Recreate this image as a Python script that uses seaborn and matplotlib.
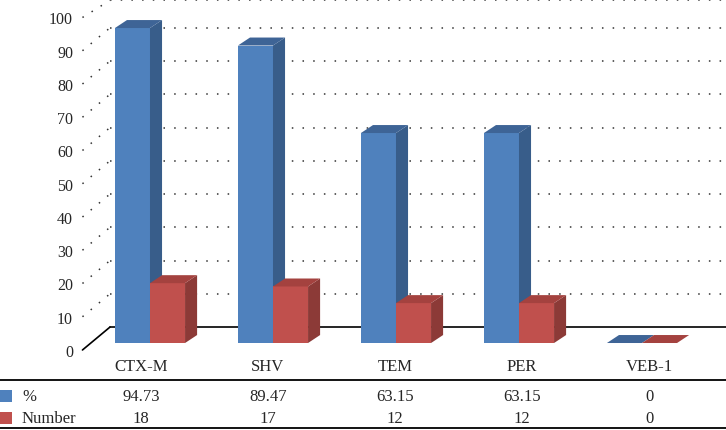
import numpy as np
import pandas as pd
import matplotlib
matplotlib.use("Agg")
import matplotlib.pyplot as plt
from matplotlib.patches import Polygon, Rectangle
import seaborn as sns

# Chart data
genes = ["CTX-M", "SHV", "TEM", "PER", "VEB-1"]
pct = [94.73, 89.47, 63.15, 63.15, 0]
number = [18, 17, 12, 12, 0]
pct_labels = ["94.73", "89.47", "63.15", "63.15", "0"]
num_labels = ["18", "17", "12", "12", "0"]
series = ["%", "Number"]
yticks = list(range(0, 101, 10))

blue = "#4F81BD"
red = "#C0504D"
side_cols = {blue: "#385D8A", red: "#8C3A37"}
top_cols = {blue: "#3E6496", red: "#A4423F"}

df = pd.DataFrame({
    "gene": genes * 2,
    "series": [series[0]] * len(genes) + [series[1]] * len(genes),
    "value": pct + number,
})

sns.set_style("white")
plt.rcParams["font.family"] = ["Liberation Serif", "DejaVu Serif"]
plt.rcParams["font.size"] = 11

W, H = 726, 431
fig = plt.figure(figsize=(W / 100, H / 100), dpi=100)
ax = fig.add_axes([80 / W, 1 - 360 / H, 646 / W, 360 / H])

sns.barplot(data=df, x="gene", y="value", hue="series", palette=[blue, red],
            width=0.57, saturation=1, legend=False, ax=ax, linewidth=0)

# pseudo-3D depth (in data units)
dx, dy = 0.098, 2.4
# back wall offset
wall_x, wall_y = -0.325, 4.8
x_left = -0.569
y_top = 103.46
ax.set_xlim(x_left, 4.683)
ax.set_ylim(-4.81, y_top)

n = len(genes)
for k, p in enumerate(ax.patches):
    col = blue if k < n else red
    z = 2 if k < n else 3
    p.set_zorder(z)
    x0 = p.get_x()
    x1 = x0 + p.get_width()
    h = p.get_height()
    side = Polygon([(x1, 0), (x1, h), (x1 + dx, h + dy), (x1 + dx, dy)],
                   closed=True, facecolor=side_cols[col], edgecolor="none", zorder=z + 0.1)
    top = Polygon([(x0, h), (x1, h), (x1 + dx, h + dy), (x0 + dx, h + dy)],
                  closed=True, facecolor=top_cols[col], edgecolor="none", zorder=z + 0.2)
    ax.add_patch(side)
    ax.add_patch(top)

# back wall grid and floor
xmax = ax.get_xlim()[1]
for v in yticks[1:]:
    yb = min(v + wall_y, y_top - 0.4)  # top line sits at the plot edge
    ax.plot([wall_x, xmax], [yb, yb], color="#333333",
            linestyle=(0, (1, 6)), linewidth=1.1, zorder=1)
    ax.plot([x_left + 0.02, wall_x], [v - 2.1, yb], color="#333333",
            linestyle=(0, (1, 6)), linewidth=1.1, zorder=1)
ax.plot([wall_x, xmax], [wall_y, wall_y], color="black", linewidth=1.2, zorder=1)
ax.plot([x_left + 0.02, wall_x], [-2.1, wall_y], color="black", linewidth=1.2, zorder=1)

ax.set_yticks([v - 2.1 for v in yticks])
ax.set_yticklabels([str(v) for v in yticks])
ax.tick_params(axis="y", length=0, pad=5, labelsize=11.5)
ax.set_xticks([])
ax.set_xlabel("")
ax.set_ylabel("")
sns.despine(ax=ax, left=True, bottom=True)

# data table below
tax = fig.add_axes([0, 0, 1, 1 - 360 / H])
tax.set_xlim(0, W)
tax.set_ylim(431, 360)
tax.axis("off")
col_x = 141 + 127 * np.arange(n)
fs = 12
for i in range(n):
    tax.text(col_x[i], 367, genes[i], ha="center", va="center", fontsize=fs)
    tax.text(col_x[i], 397, pct_labels[i], ha="center", va="center", fontsize=fs)
    tax.text(col_x[i], 419, num_labels[i], ha="center", va="center", fontsize=fs)
tax.plot([0, W], [381, 381], color="black", linewidth=1.3)
tax.plot([0, W], [428.5, 428.5], color="black", linewidth=1.3)
tax.add_patch(Rectangle((0, 391), 12, 12, facecolor=blue, edgecolor="none"))
tax.add_patch(Rectangle((0, 413), 12, 12, facecolor=red, edgecolor="none"))
tax.text(22, 397, series[0], ha="left", va="center", fontsize=fs)
tax.text(22, 419, series[1], ha="left", va="center", fontsize=fs)

fig.savefig("out.png", dpi=100)
